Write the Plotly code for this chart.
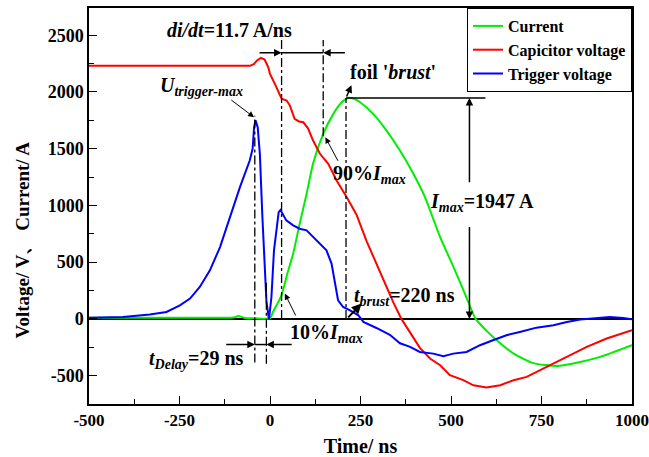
import plotly.graph_objects as go

# ---- data ----
cur_t = [-500, -300, -150, -100, -88, -80, -70, -40, -10, 0, 8, 18, 32, 48, 64, 82, 101, 119,
         147, 175, 198, 216, 232, 249, 285, 322, 359, 396, 428, 470, 507, 540, 568, 600, 627,
         673, 728, 792, 857, 912, 1000]
cur_i = [10, 10, 10, 12, 25, 20, 8, 5, 2, 5, 60, 120, 210, 400, 575, 839, 1100, 1370,
         1631, 1807, 1909, 1947, 1940, 1909, 1807, 1660, 1484, 1279, 1073, 721, 457, 210, 0, -110, -190,
         -306, -390, -414, -379, -335, -232]

cap_t = [-500, -300, -100, -55, -45, -35, -25, -15, -5, 0, 15, 32, 46, 55, 68, 80, 92, 105, 119,
         138, 161, 184, 212, 239, 267, 295, 322, 340, 363, 387, 414, 442, 470, 497, 534, 562, 598,
         636, 673, 709, 746, 783, 820, 875, 930, 1000]
cap_v = [2230, 2232, 2230, 2230, 2245, 2280, 2300, 2285, 2220, 2160, 2060, 1940, 1925, 1880, 1763,
         1740, 1733, 1680, 1572, 1455, 1367, 1220, 1073, 918, 684, 481, 276, 150, 0, -120, -255,
         -349, -408, -496, -540, -585, -605, -585, -540, -511, -452, -394, -335, -247, -173, -100]

trg_t = [-500, -406, -332, -286, -249, -221, -194, -166, -138, -111, -83, -56, -48, -44, -40, -34,
         -28, -21, -14, -10, -3, 4, 11, 18, 24, 29, 45, 64, 82, 101, 119, 138, 156, 170, 179, 188,
         202, 221, 244, 258, 294, 331, 359, 387, 414, 451, 479, 506, 543, 580, 616, 653, 690, 736,
         783, 820, 857, 894, 939, 976, 1000]
trg_v = [10, 17, 38, 61, 120, 179, 281, 428, 633, 897, 1161, 1396, 1499, 1689, 1750, 1689,
         1455, 897, 457, 164, -6, 193, 604, 780, 941, 960, 868, 824, 795, 780, 721, 663, 604, 487,
         311, 164, 105, 76, 32, -27, -80, -140, -215, -247, -291, -306, -329, -306, -291, -232,
         -188, -144, -115, -77, -56, -27, -6, 3, 17, 8, -3]

x_ticks = [-500, -250, 0, 250, 500, 750, 1000]
x_labels = ["-500", "-250", "0", "250", "500", "750", "1000"]
y_ticks = [-500, 0, 500, 1000, 1500, 2000, 2500]
y_labels = ["-500", "0", "500", "1000", "1500", "2000", "2500"]

FONT = "Liberation Serif"

fig = go.Figure()
fig.add_trace(go.Scatter(x=cur_t, y=cur_i, mode="lines", name="Current",
                         line=dict(color="#00ee00", width=2, shape="spline", smoothing=0.6)))
fig.add_trace(go.Scatter(x=cap_t, y=cap_v, mode="lines", name="Capicitor voltage",
                         line=dict(color="#ff0000", width=2)))
fig.add_trace(go.Scatter(x=trg_t, y=trg_v, mode="lines", name="Trigger voltage",
                         line=dict(color="#0000ff", width=2)))

shapes = []
def vdash(x, y0, y1):
    shapes.append(dict(type="line", xref="x", yref="y", x0=x, x1=x, y0=y0, y1=y1,
                       line=dict(color="black", width=1.3, dash="dashdot")))
def hline(x0, x1, y, w=1.5):
    shapes.append(dict(type="line", xref="x", yref="y", x0=x0, x1=x1, y0=y, y1=y,
                       line=dict(color="black", width=w)))

vdash(32, 0, 2458)
vdash(147, 1610, 2458)
vdash(210, 0, 1947)
vdash(-42, -385, 1790)
vdash(-10, -395, 323)
hline(32, 147, 2346)
hline(-42, -10, -226)
hline(210, 595, 1947)

annotations = []
def txt(text, x, y, size=20):
    annotations.append(dict(text=text, x=x, y=y, xref="x", yref="y", showarrow=False,
                            font=dict(family=FONT, size=size, color="black")))
def arrow(x, y, ax, ay, w=1.5, head=2, size=1.0):
    annotations.append(dict(text="", x=x, y=y, ax=ax, ay=ay, xref="x", yref="y",
                            axref="x", ayref="y", showarrow=True, arrowhead=head,
                            arrowsize=size, arrowwidth=w, arrowcolor="black", standoff=0))

txt("<b><i>di/dt</i>=11.7 A/ns</b>", -111, 2549)
txt("<b><i>U<sub>trigger-max</sub></i></b>", -190, 2045)
txt("<b>foil '<i>brust</i>'</b>", 341, 2173)
txt("<b>90%<i>I<sub>max</sub></i></b>", 276, 1270)
txt("<b><i>I<sub>max</sub></i>=1947 A</b>", 586, 1025)
txt("<b><i>t<sub>brust</sub></i>=220 ns</b>", 371, 200)
txt("<b>10%<i>I<sub>max</sub></i></b>", 157, -130)
txt("<b><i>t<sub>Delay</sub></i>=29 ns</b>", -202, -360)

arrow(32, 2346, -33, 2346)
arrow(147, 2346, 211, 2346)
arrow(-44, 1777, -111, 1939, w=1, size=1.2)
arrow(225, 2060, 210, 1947, w=1.5)
arrow(153, 1600, 190, 1380, w=1, size=1.2)
arrow(41, 223, 73, 17, w=1, size=1.2)
arrow(253, 135, 212, 0, w=2)
arrow(551, 1947, 551, 1191)
arrow(551, 0, 551, 824)
arrow(-42, -226, -125, -226)
arrow(-10, -226, 64, -226)

# y-axis title (placed as rotated text to match the reference position)
annotations.append(dict(text="<b>Voltage/ V、 Current/ A</b>", xref="paper", yref="paper",
                        x=(21.5 - 89) / 543, y=(404 - 240) / 396, xanchor="center",
                        yanchor="middle", textangle=-90, showarrow=False,
                        font=dict(family=FONT, size=19, color="black")))

axis_common = dict(showline=True, linecolor="black", linewidth=1.5, mirror=True,
                   ticks="inside", ticklen=8, tickwidth=1.3, tickcolor="black",
                   showgrid=False, automargin=False, ticklabeloverflow="allow")

fig.update_layout(
    width=649, height=457,
    margin=dict(l=89, r=17, t=8, b=53),
    paper_bgcolor="white", plot_bgcolor="white",
    xaxis=dict(range=[-500, 1000], tickvals=x_ticks, ticktext=x_labels, zeroline=False,
               tickfont=dict(family=FONT, size=17, color="black", weight="bold"),
               minor=dict(dtick=125, ticks="inside", ticklen=5, tickcolor="black"),
               title=dict(text="<b>Time/ ns</b>", font=dict(family=FONT, size=20, color="black"),
                          standoff=10),
               **axis_common),
    yaxis=dict(range=[-750, 2740], tickvals=y_ticks, ticktext=y_labels, zeroline=True,
               zerolinecolor="black", zerolinewidth=1.5,
               tickfont=dict(family=FONT, size=18, color="black", weight="bold"),
               minor=dict(dtick=250, ticks="inside", ticklen=5, tickcolor="black"),
               **axis_common),
    legend=dict(x=1, y=1, xanchor="right", yanchor="top", bgcolor="white",
                bordercolor="black", borderwidth=1,
                font=dict(family=FONT, size=16, color="black", weight="bold"),
                tracegroupgap=0),
    shapes=shapes,
    annotations=annotations,
    showlegend=True,
)

fig.write_html("out.html")
